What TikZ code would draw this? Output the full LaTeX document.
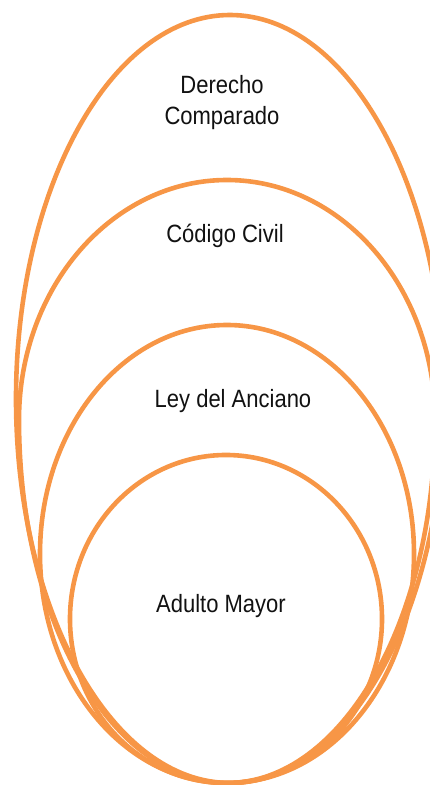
\documentclass[tikz,border=0pt]{standalone}
\usepackage{fontspec}
\setmainfont{Liberation Sans}[FakeStretch=0.88]
\usepackage{xcolor}
\usepackage{tikz}
\usetikzlibrary{positioning, calc}

\definecolor{ringorange}{HTML}{F79646}
\definecolor{labelink}{HTML}{111111}

\tikzset{
  ring/.style={draw=ringorange, line width=4.6pt},
  lbl/.style={text=labelink, font=\fontsize{25}{31}\selectfont, inner sep=0pt, align=center}
}

\begin{document}
\begin{tikzpicture}[x=1pt, y=1pt]
      \useasboundingbox (0,0) rectangle (429,785);

      % derecho comparado
      \draw [ring] (230,386) ellipse [x radius=214pt, y radius=384pt];
      % codigo civil
      \draw [ring] (19,365) arc [start angle=180, end angle=0, x radius=208pt, y radius=240pt]
                   arc [start angle=0, end angle=-180, x radius=208pt, y radius=363pt] -- cycle;
      % ley del anciano
      \draw [ring] (227,231) ellipse [x radius=187pt, y radius=229pt];
      % adulto mayor
      \draw [ring] (226,166) ellipse [x radius=156pt, y radius=164pt];

      \node [lbl] (derecho) at (222,682) {Derecho\\Comparado};
      \node [lbl, anchor=base] (codigo) at (225,542) {Código Civil};
      \node [lbl, anchor=base] (ley) at (233,377) {Ley del Anciano};
      \node [lbl, anchor=base] (adulto) at (221,172) {Adulto Mayor};
\end{tikzpicture}
\end{document}
